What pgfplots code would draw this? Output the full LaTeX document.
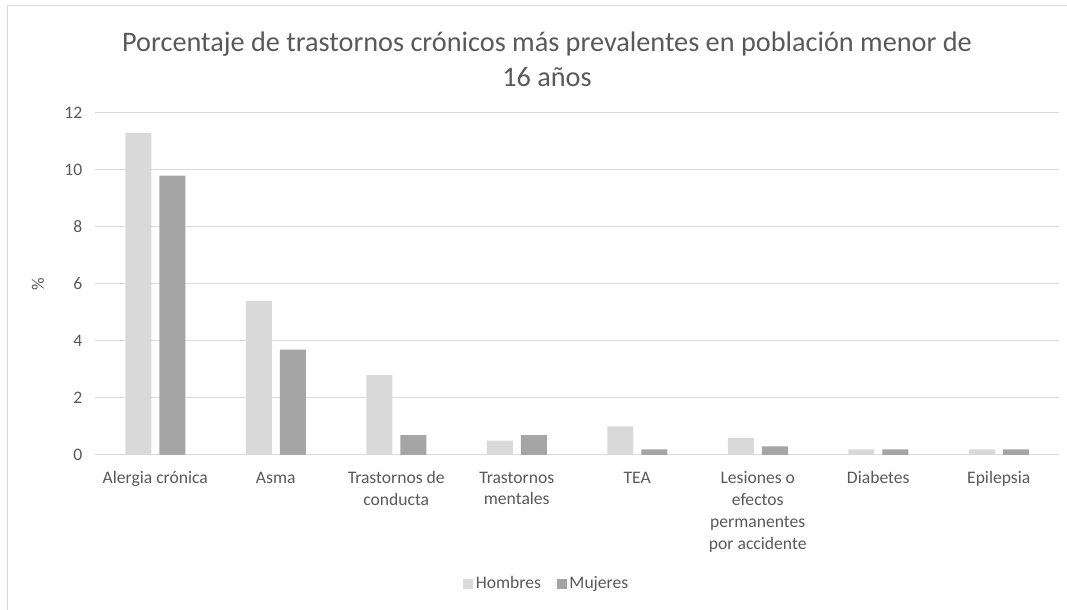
\documentclass[border=0pt]{standalone}
\usepackage{fontspec}
\setmainfont{Carlito}
\usepackage{pgfplots}
\pgfplotsset{compat=1.18}

\definecolor{hombres}{HTML}{D9D9D9}
\definecolor{mujeres}{HTML}{A5A5A5}
\definecolor{txt}{HTML}{595959}
\definecolor{gridc}{HTML}{D9D9D9}

% 1 px of the reference = 0.75pt
\begin{document}
\begin{tikzpicture}
\useasboundingbox (0pt,0pt) rectangle (800.25pt,457.5pt);
% chart frame (only left and top edges are visible)
\draw[gridc, line width=0.75pt] (5.25pt,0pt) -- (5.25pt,453pt) -- (800.25pt,453pt);

\node[txt, font=\fontsize{21.2}{26}\selectfont, align=center] at (410.25pt,413.25pt)
  {Porcentaje de trastornos crónicos más prevalentes en población menor de\\16 años};

\begin{axis}[
    at={(71.25pt,116.25pt)}, anchor=south west,
    scale only axis,
    width=723pt, height=256.5pt,
    ybar=6pt,
    bar width=19.5pt,
    xmin=-0.5, xmax=7.5,
    ymin=0, ymax=12,
    ytick={0,2,...,12},
    xtick=data,
    xticklabels={Alergia crónica, Asma, {Trastornos de\\conducta}, {Trastornos\\mentales}, TEA, {Lesiones o\\efectos\\permanentes\\por accidente}, Diabetes, Epilepsia},
    xticklabel style={align=center, font=\fontsize{13.2}{16.3}\selectfont, text=txt, yshift=-9pt},
    yticklabel style={font=\fontsize{13.2}{16.3}\selectfont, text=txt, xshift=-6pt},
    /pgf/number format/assume math mode=true,
    ylabel={\%},
    every axis y label/.style={at={(rel axis cs:0,0.5)}, anchor=center, rotate=90,
      yshift=42.75pt, font=\fontsize{13.2}{16.3}\selectfont, text=txt},
    major tick length=0pt,
    tick style={draw=none},
    axis line style={draw=none},
    xmajorgrids=false,
    ymajorgrids=true,
    grid style={draw=gridc, line width=0.75pt},
    legend columns=2,
    legend style={at={(0.469,-0.376)}, anchor=center, draw=none, fill=none,
      font=\fontsize{13.2}{16.3}\selectfont, text=txt,
      /tikz/every even column/.append style={column sep=10pt}},
    legend image code/.code={\fill[#1] (0pt,-3.7pt) rectangle (7.4pt,3.7pt);},
]
\addplot[fill=hombres, draw=none] coordinates {(0,11.3) (1,5.4) (2,2.8) (3,0.5) (4,1.0) (5,0.6) (6,0.2) (7,0.2)};
\addplot[fill=mujeres, draw=none] coordinates {(0,9.8) (1,3.7) (2,0.7) (3,0.7) (4,0.2) (5,0.3) (6,0.2) (7,0.2)};
\legend{Hombres, Mujeres}
\end{axis}
\end{tikzpicture}
\end{document}
